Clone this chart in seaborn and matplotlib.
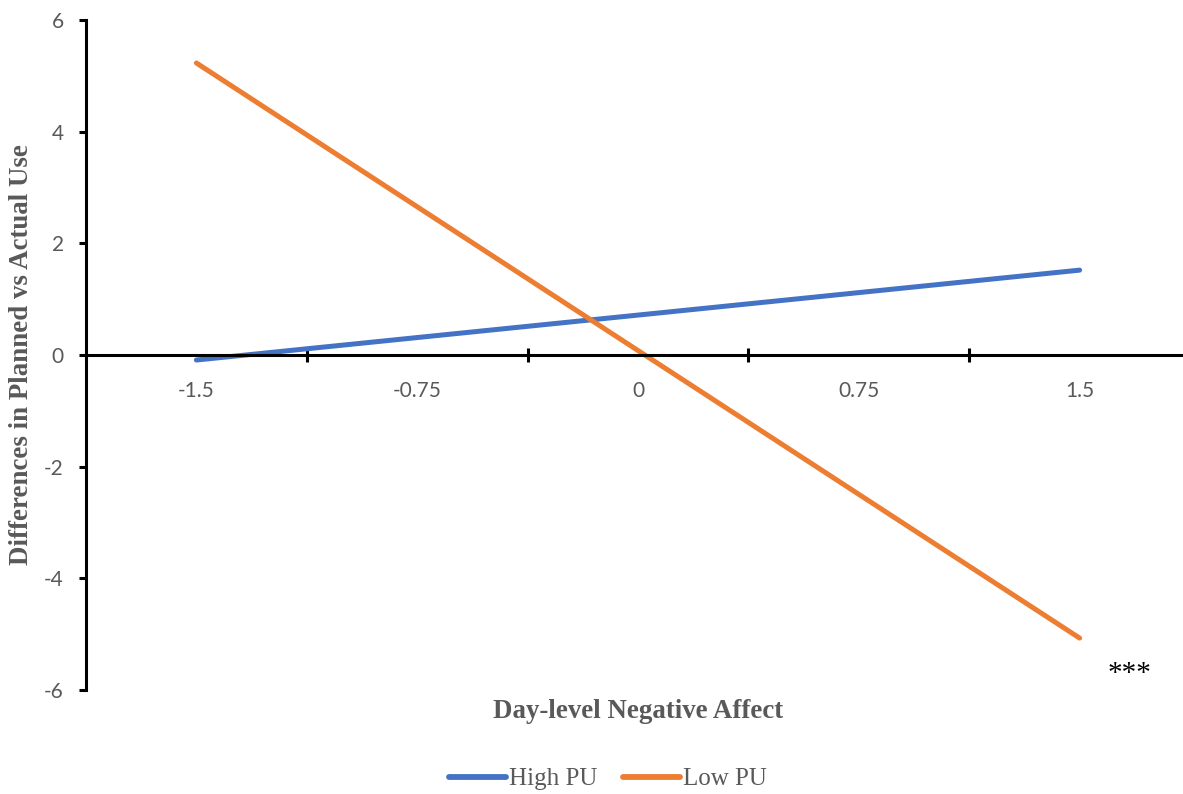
import matplotlib
matplotlib.use("Agg")
import matplotlib.pyplot as plt
import seaborn as sns
import pandas as pd
from matplotlib.ticker import FixedLocator

# Data
x_levels = [-1.5, 1.5]
high_pu = [-0.09, 1.52]
low_pu = [5.23, -5.07]
x_tick_values = [-1.5, -0.75, 0, 0.75, 1.5]
x_tick_labels = ["-1.5", "-0.75", "0", "0.75", "1.5"]
y_ticks = [-6, -4, -2, 0, 2, 4, 6]
series_names = ["High PU", "Low PU"]
colors = {"High PU": "#4472C4", "Low PU": "#ED7D31"}

df = pd.DataFrame({
    "NA": x_levels * 2,
    "diff": high_pu + low_pu,
    "group": [series_names[0]] * 2 + [series_names[1]] * 2,
})

sns.set_style("white")
plt.rcParams["font.family"] = ["Lato", "DejaVu Sans"]
plt.rcParams["axes.unicode_minus"] = False

W, H = 1183, 794
fig = plt.figure(figsize=(W / 100, H / 100), dpi=100)
ax = fig.add_axes([86 / W, 1 - 690 / H, (1190 - 86) / W, 670 / H])

sns.lineplot(data=df, x="NA", y="diff", hue="group", palette=colors,
             linewidth=3.6, legend=False, ax=ax)
for ln in ax.get_lines():
    ln.set_solid_capstyle("round")

ax.set_xlim(-1.875, 1.875)
ax.set_ylim(-6, 6)

# spines
for s in ["top", "right"]:
    ax.spines[s].set_visible(False)
ax.spines["bottom"].set_position(("data", 0))
ax.spines["bottom"].set_linewidth(2.2)
ax.spines["left"].set_linewidth(2.2)
ax.spines["bottom"].set_color("black")
ax.spines["left"].set_color("black")

ax.set_xticks(x_tick_values)
ax.set_xticklabels(x_tick_labels)
ax.xaxis.set_minor_locator(FixedLocator([-1.125, -0.375, 0.375, 1.125]))
ax.tick_params(axis="x", which="major", bottom=True, length=0, pad=19,
               labelsize=15, labelcolor="#595959")
ax.tick_params(axis="x", which="minor", bottom=True, direction="inout",
               length=10, width=2.2, color="black")

ax.set_yticks(y_ticks)
ax.tick_params(axis="y", which="major", direction="out", length=5, width=2.2,
               color="black", pad=11, labelsize=15, labelcolor="#595959", left=True)

serif = ["Liberation Serif", "DejaVu Serif"]
ax.set_xlabel("Day-level Negative Affect", fontsize=19.4, fontweight="bold",
              color="#595959", family=serif, va="center")
ax.xaxis.set_label_coords((638 - 86) / 1104, (690 - 712) / 670)
ax.set_ylabel("Differences in Planned vs Actual Use", fontsize=19.4, fontweight="bold",
              color="#595959", family=serif, va="center")
ax.yaxis.set_label_coords((22 - 86) / 1104, 0.5)

ax.annotate("***", xy=(1.5, low_pu[1]), xytext=(36, -26), textcoords="offset points",
            ha="center", va="center", fontsize=21, family=serif, color="black")

handles = ax.get_lines()[:2]
leg = fig.legend(handles, series_names, loc="center", bbox_to_anchor=(608 / W, 1 - 779 / H),
                 ncol=2, frameon=False, prop={"family": serif, "size": 18},
                 labelcolor="#595959", handlelength=2.3, handletextpad=0.12,
                 columnspacing=1.0)
for lh in leg.get_lines():
    lh.set_linewidth(4.2)

fig.savefig("out.png", dpi=100)
